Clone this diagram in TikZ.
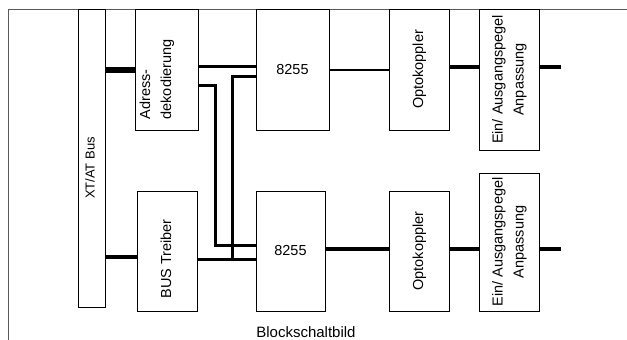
\documentclass[tikz,border=0pt]{standalone}
\usepackage{fontspec}
\setmainfont{Liberation Sans}
\usepackage{tikz}
\definecolor{FrameGray}{HTML}{5A5A5A}
\newcommand{\vlabel}[2][c]{\rotatebox{90}{\begin{tabular}{@{}#1@{}}#2\end{tabular}}}

\begin{document}
\begin{tikzpicture}[x=1pt, y=-1pt,
        block/.style={draw, line width=0.9pt, inner sep=0pt, font=\fontsize{14.5}{21}\selectfont},
        wire/.style={line width=3pt},
        buswire/.style={line width=6pt}]
        \useasboundingbox (0,0) rectangle (627,340);
        % frame
        \draw[FrameGray, line width=0.9pt] (8,340) -- (8,9) -- (627,9);
        % bus and first stage
        \node[block, minimum width=27pt, minimum height=298pt, font=\fontsize{13}{15}\selectfont] (bus) at (91.5,158) {\vlabel{XT/AT Bus\hspace*{20pt}}};
        \node[block, minimum width=60pt, minimum height=121pt] (adr) at (167,69.5) {\vlabel[l]{Adress-\hspace*{20pt}\\dekodierung\hspace*{20pt}\\ \mbox{}}};
        \node[block, minimum width=60pt, minimum height=120pt] (trb) at (167,251) {\vlabel{BUS Treiber\hspace*{16pt}}};
        % upper channel
        \node[block, minimum width=73pt, minimum height=121pt] (pioA) at (292.5,69.5) {8255};
        \node[block, minimum width=60pt, minimum height=121pt] (optA) at (419,69.5) {\vlabel{Optokoppler}};
        \node[block, minimum width=60pt, minimum height=141pt] (eaA) at (509,79.5) {\vlabel{Ein/ Ausgangspegel\\Anpassung}};
        % lower channel
        \node[block, minimum width=69pt, minimum height=120pt] (pioB) at (290.5,251) {8255};
        \node[block, minimum width=60pt, minimum height=120pt] (optB) at (419,251) {\vlabel{Optokoppler}};
        \node[block, minimum width=60pt, minimum height=138pt] (eaB) at (509,242) {\vlabel{Ein/ Ausgangspegel\\Anpassung}};
        \coordinate (outA) at (561,67);
        \coordinate (outB) at (561,249);
        % connections
        \draw[buswire] (bus.east |- 0,70) -- (adr.west |- 0,70);
        \draw[line width=4pt] (bus.east |- 0,257) -- (trb.west |- 0,257);
        \draw[wire] (adr.east |- 0,66) -- (pioA.west |- 0,66);
        \draw[wire] (adr.east |- 0,85) -| (215,245) -- (pioB.west |- 0,245);
        \draw[wire] (pioA.west |- 0,76) -| (232,259);
        \draw[wire] (trb.east |- 0,259) -- (pioB.west |- 0,259);
        \draw[line width=2pt] (pioA.east |- 0,70) -- (optA.west |- 0,70);
        \draw[line width=3.5pt] (optA.east |- outA) -- (eaA.west |- outA);
        \draw[line width=3.5pt] (eaA.east |- outA) -- (outA);
        \draw[line width=3.5pt] (pioB.east |- outB) -- (optB.west |- outB);
        \draw[line width=3.5pt] (optB.east |- outB) -- (eaB.west |- outB);
        \draw[line width=3.5pt] (eaB.east |- outB) -- (outB);
        % caption
        \node[font=\fontsize{15}{16}\selectfont, anchor=base] (title) at (306,337.5) {Blockschaltbild};
      \end{tikzpicture}
\end{document}
